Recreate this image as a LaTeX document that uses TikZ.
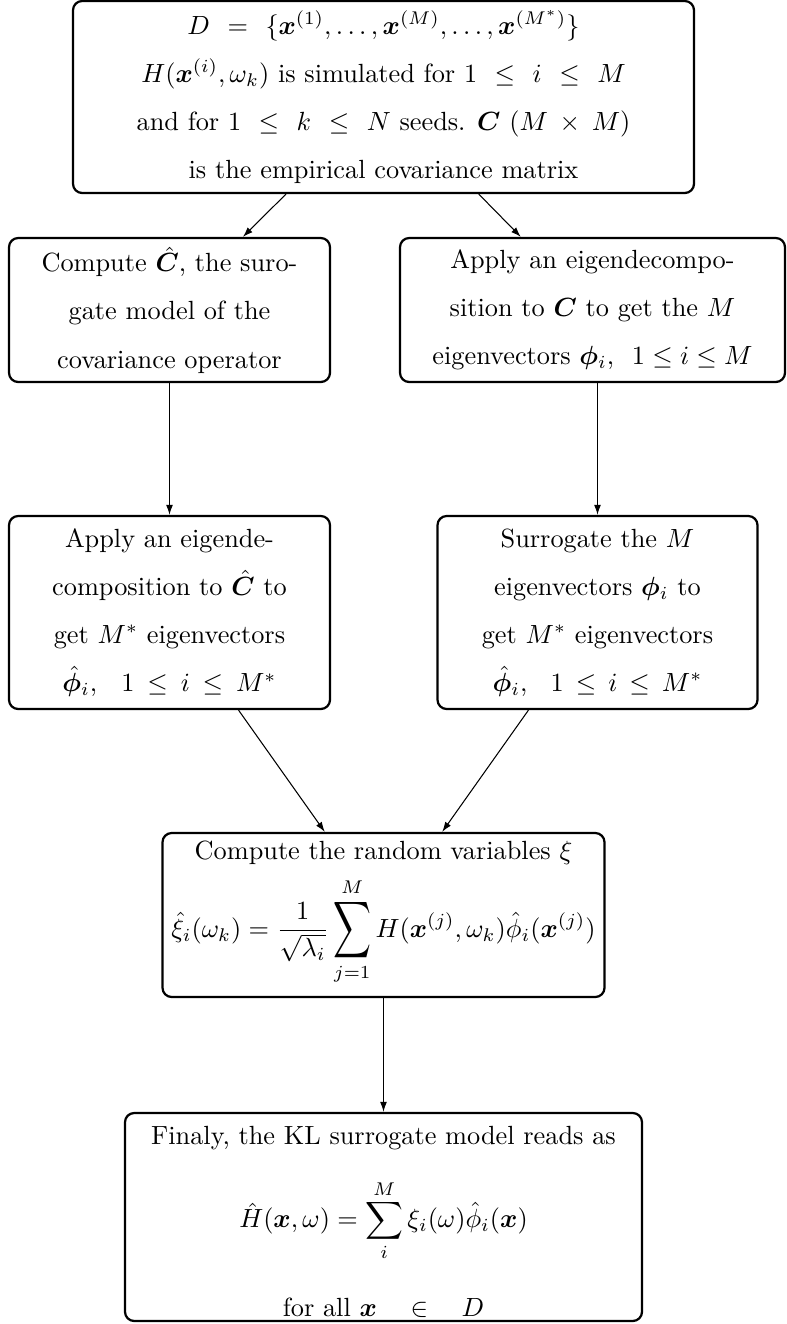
\documentclass[tikz,border=0pt]{standalone}
\usepackage{amsmath,amssymb,bm,graphicx}
\usetikzlibrary{arrows.meta}
\tikzset{
  box/.style={draw, line width=0.85pt, rounded corners=3.5pt, align=center, inner sep=0pt,
              font=\fontsize{10}{18.3}\selectfont},
  sz/.style 2 args={minimum width=#1*0.3802pt, minimum height=#2*0.3802pt},
  arr/.style={-{Latex[length=3.8pt,width=2.6pt]}, line width=0.4pt}
}
\newcommand\gsp{\mskip7mu}
\newcommand\tallsum{\mathop{\vcenter{\hbox{\scalebox{1}[1.5]{$\displaystyle\sum$}}}}\limits}
\begin{document}
\begin{tikzpicture}[x=0.3802pt, y=-0.3802pt]
\useasboundingbox (0,0) rectangle (787,1324);
\node[box, sz={621}{192}] (top) at (383.5,97) {%
$D \gsp=\gsp \{\boldsymbol{x}^{(1)},\dots,\boldsymbol{x}^{(M)},\dots,\boldsymbol{x}^{(M^*)}\}$\\
$H(\boldsymbol{x}^{(i)},\omega_k)$ is simulated for $1 \gsp\le\gsp i \gsp\le\gsp M$\\
and for $1 \gsp\le\gsp k \gsp\le\gsp N$ seeds. $\boldsymbol{C}$ $(M \mskip4mu\times\mskip4mu M)$\\
is the empirical covariance matrix};
\node[box, sz={321}{144}] (b2l) at (169.5,310) {%
Compute $\hat{\boldsymbol{C}}$, the suro-\\gate model of the\\covariance operator};
\node[box, sz={385}{144}] (b2r) at (592.5,310) {%
Apply an eigendecompo-\\sition to $\boldsymbol{C}$ to get the $M$\\eigenvectors $\boldsymbol{\phi}_i$,\ \ $1\le i\le M$};
\node[box, sz={321}{193}] (b3l) at (169.5,612.5) {%
Apply an eigende-\\composition to $\hat{\boldsymbol{C}}$ to\\get $M^*$ eigenvectors\\
\makebox[81.4pt][s]{$\hat{\boldsymbol{\phi}}_i$,\ \ $1 \le i \le M^*$}};
\node[box, sz={320}{193}] (b3r) at (597.5,612.5) {%
Surrogate the $M$\\eigenvectors $\boldsymbol{\phi}_i$ to\\get $M^*$ eigenvectors\\
\makebox[79.8pt][s]{$\hat{\boldsymbol{\phi}}_i$,\ \ $1 \le i \le M^*$}};
\node[box, sz={442}{164}] (b4) at (383.5,915) {%
Compute the random variables $\xi$\\[4.2pt]
$\displaystyle \hat{\xi}_i(\omega_k)=\frac{1}{\sqrt{\lambda_i}}\tallsum_{j=1}^{M}H(\boldsymbol{x}^{(j)},\omega_k)\hat{\phi}_i(\boldsymbol{x}^{(j)})\rule[-19.7pt]{0pt}{0pt}$};
\node[box, sz={517}{208}] (b5) at (383.5,1217) {%
\rule{0pt}{10.7pt}Finaly, the KL surrogate model reads as\\[10.5pt]
$\displaystyle \hat{H}(\boldsymbol{x},\omega)=\sum_{i}^{M}\xi_i(\omega)\hat{\phi}_i(\boldsymbol{x})$\\[13pt]
for all $\boldsymbol{x}\quad\in\quad D$};
\draw[arr] (top) -- (b2l);
\draw[arr] (top) -- (b2r);
\draw[arr] (b2l) -- (b3l);
\draw[arr] (b3r.north |- b2r.south) -- (b3r.north);
\draw[arr] (b3l) -- (b4);
\draw[arr] (b3r) -- (b4);
\draw[arr] (b4) -- (b5);
\end{tikzpicture}
\end{document}
